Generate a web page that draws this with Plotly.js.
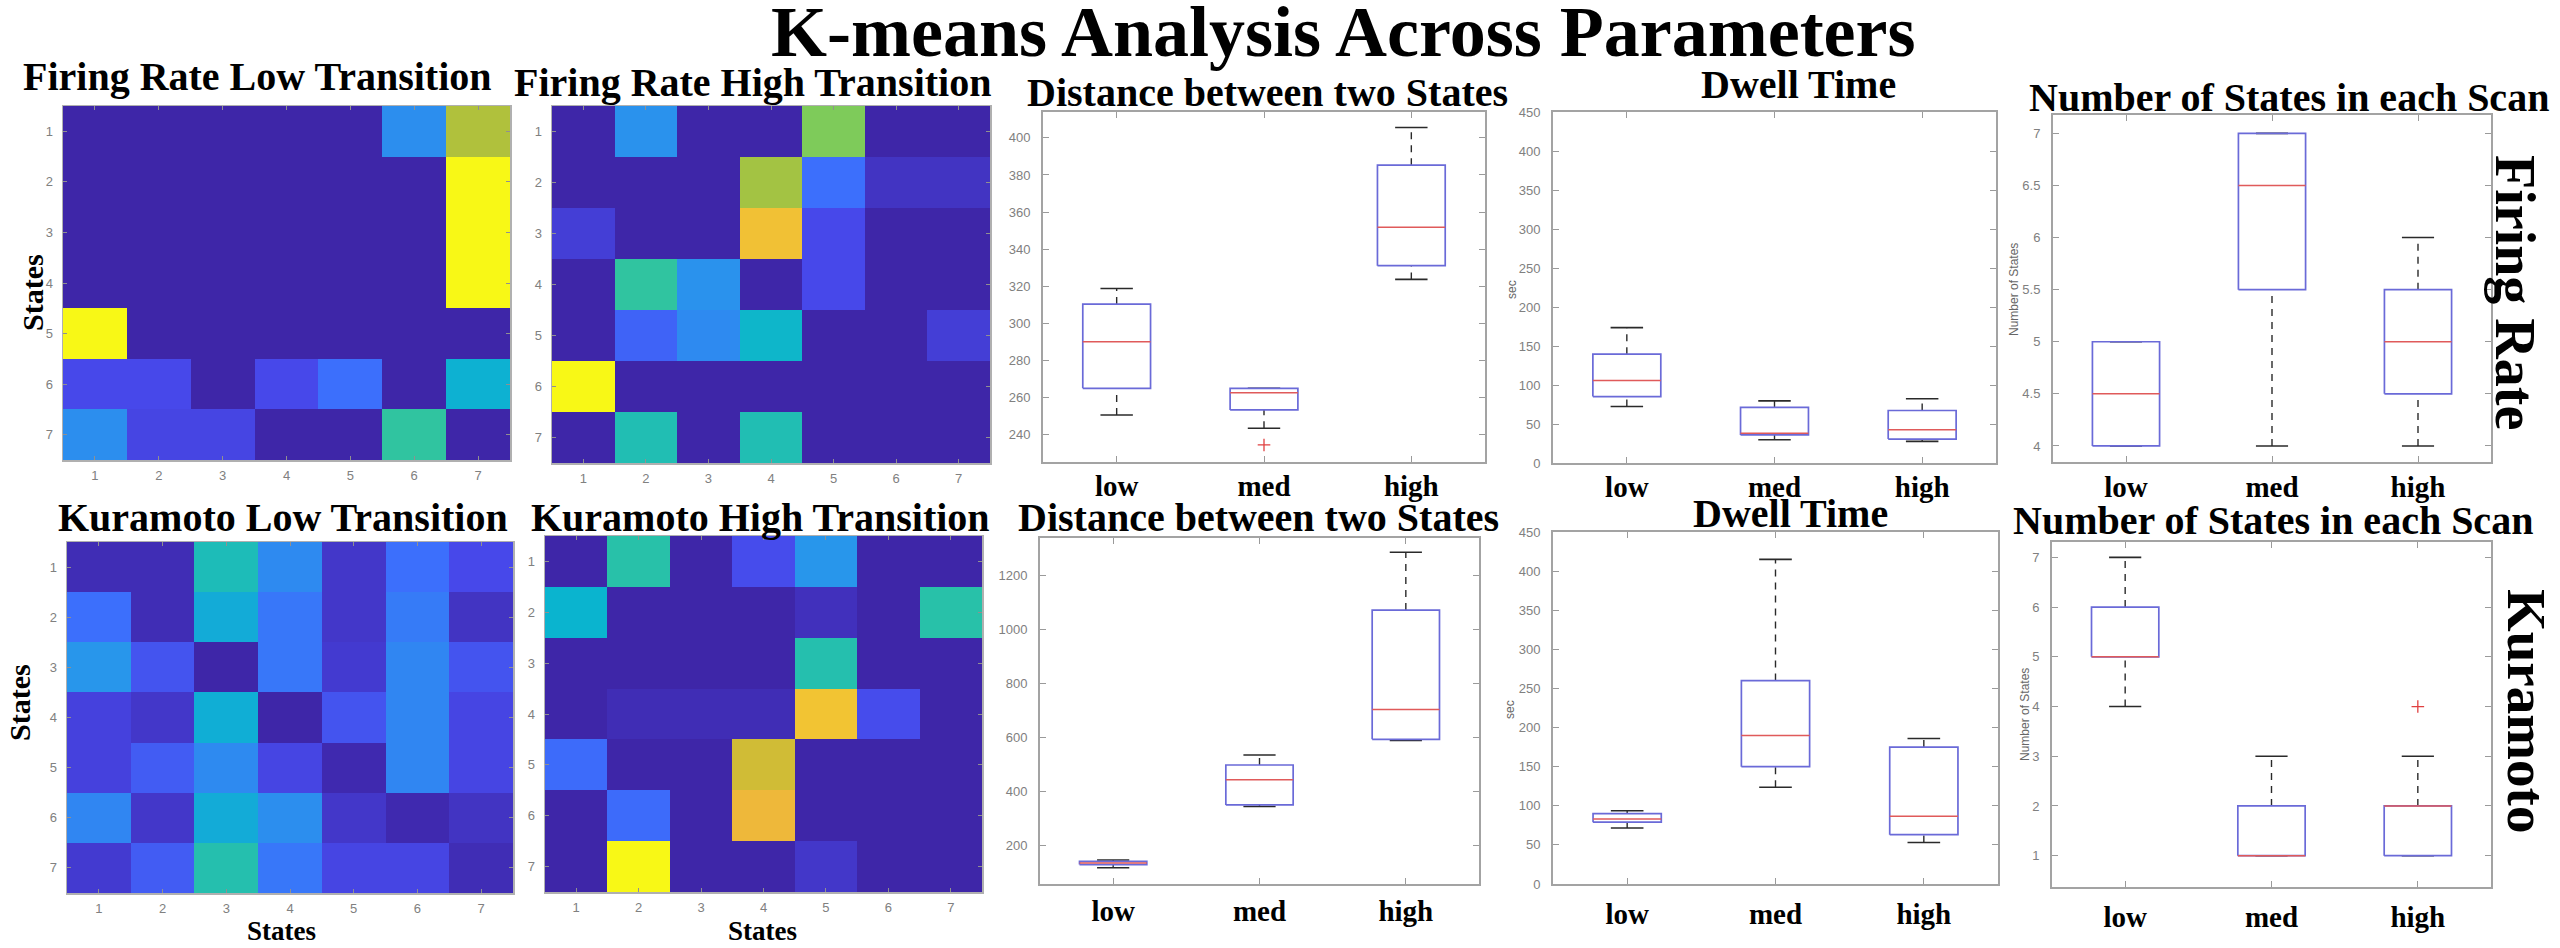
<!DOCTYPE html>
<html><head><meta charset="utf-8">
<script src="https://cdn.plot.ly/plotly-3.0.1.min.js"></script>
<style>html,body{margin:0;padding:0;background:#fff}#chart{width:2560px;height:948px}</style>
</head><body><div id="chart"></div><script>
// ---------- data ----------
const states = [1, 2, 3, 4, 5, 6, 7];
const frLowTransition = [
  [0.00, 0.00, 0.00, 0.00, 0.00, 0.28, 0.68],
  [0.00, 0.00, 0.00, 0.00, 0.00, 0.00, 1.00],
  [0.00, 0.00, 0.00, 0.00, 0.00, 0.00, 1.00],
  [0.00, 0.00, 0.00, 0.00, 0.00, 0.00, 1.00],
  [1.00, 0.00, 0.00, 0.00, 0.00, 0.00, 0.00],
  [0.10, 0.10, 0.00, 0.10, 0.20, 0.00, 0.39],
  [0.28, 0.09, 0.09, 0.00, 0.00, 0.50, 0.00]
];
const frHighTransition = [
  [0.00, 0.29, 0.00, 0.00, 0.60, 0.00, 0.00],
  [0.00, 0.00, 0.00, 0.66, 0.20, 0.04, 0.04],
  [0.07, 0.00, 0.00, 0.83, 0.10, 0.00, 0.00],
  [0.00, 0.50, 0.29, 0.00, 0.10, 0.00, 0.00],
  [0.00, 0.17, 0.27, 0.41, 0.00, 0.00, 0.07],
  [1.00, 0.00, 0.00, 0.00, 0.00, 0.00, 0.00],
  [0.00, 0.46, 0.00, 0.46, 0.00, 0.00, 0.00]
];
const kurLowTransition = [
  [0.02, 0.02, 0.45, 0.27, 0.05, 0.20, 0.10],
  [0.20, 0.02, 0.37, 0.22, 0.05, 0.23, 0.04],
  [0.30, 0.13, 0.00, 0.22, 0.06, 0.26, 0.13],
  [0.08, 0.05, 0.38, 0.00, 0.13, 0.26, 0.09],
  [0.08, 0.15, 0.27, 0.09, 0.01, 0.26, 0.09],
  [0.26, 0.05, 0.37, 0.28, 0.05, 0.01, 0.04],
  [0.06, 0.15, 0.47, 0.22, 0.09, 0.09, 0.02]
];
const kurHighTransition = [
  [0.00, 0.48, 0.00, 0.11, 0.30, 0.00, 0.00],
  [0.40, 0.00, 0.00, 0.00, 0.03, 0.00, 0.48],
  [0.00, 0.00, 0.00, 0.00, 0.47, 0.00, 0.00],
  [0.00, 0.02, 0.02, 0.02, 0.84, 0.11, 0.00],
  [0.19, 0.00, 0.00, 0.74, 0.00, 0.00, 0.00],
  [0.00, 0.19, 0.00, 0.80, 0.00, 0.00, 0.00],
  [0.00, 1.00, 0.00, 0.00, 0.05, 0.00, 0.00]
];

const groups = ['low', 'med', 'high'];

const distFR_lo  = [250.4, 243.2, 323.6];
const distFR_q1  = [264.8, 253.1, 331.0];
const distFR_med = [290.0, 262.4, 351.7];
const distFR_q3  = [310.3, 264.8, 385.3];
const distFR_hi  = [318.7, 264.8, 405.6];
const distFR_outGroup = [2];
const distFR_outVal   = [234.2];

const dwellFR_lo  = [72.4, 29.8, 27.7];
const dwellFR_q1  = [85.2, 36.0, 30.7];
const dwellFR_med = [105.7, 38.0, 42.6];
const dwellFR_q3  = [139.5, 71.2, 67.3];
const dwellFR_hi  = [173.5, 79.7, 82.3];

const numFR_lo  = [4, 4, 4];
const numFR_q1  = [4, 5.5, 4.5];
const numFR_med = [4.5, 6.5, 5];
const numFR_q3  = [5, 7, 5.5];
const numFR_hi  = [5, 7, 6];

const distKur_lo  = [118, 345, 590];
const distKur_q1  = [130, 351, 594];
const distKur_med = [136, 444, 705];
const distKur_q3  = [142, 499, 1073];
const distKur_hi  = [147, 536, 1287];

const dwellKur_lo  = [71.6, 123.6, 53.0];
const dwellKur_q1  = [79.0, 150.0, 63.0];
const dwellKur_med = [83.0, 190.0, 86.5];
const dwellKur_q3  = [90.0, 260.0, 175.0];
const dwellKur_hi  = [93.7, 415.0, 186.0];

const numKur_lo  = [4, 1, 1];
const numKur_q1  = [5, 1, 1];
const numKur_med = [5, 1, 2];
const numKur_q3  = [6, 2, 2];
const numKur_hi  = [7, 3, 3];
const numKur_outGroup = [3];
const numKur_outVal   = [4];

// ---------- styling ----------
const W = 2560, H = 948;
const px = x => x / W;
const py = y => 1 - y / H;
const dx = (a, b) => [a / W, b / W];
const dy = (top, bottom) => [1 - bottom / H, 1 - top / H];

const parula = [
  [0.0, 'rgb(62,38,168)'],
  [0.1, 'rgb(71,72,234)'],
  [0.2, 'rgb(60,111,252)'],
  [0.3, 'rgb(40,150,235)'],
  [0.4, 'rgb(10,180,207)'],
  [0.5, 'rgb(48,196,160)'],
  [0.6, 'rgb(126,203,90)'],
  [0.7, 'rgb(188,190,52)'],
  [0.8, 'rgb(238,184,58)'],
  [0.9, 'rgb(248,214,40)'],
  [1.0, 'rgb(248,248,22)']
];

const SERIF = 'Liberation Serif, Times New Roman, serif';
const SANS = 'Liberation Sans, Arial, sans-serif';
const frameColor = '#a3a3a3';
const tickGray = '#808080';

const traces = [];
function heat(z, xa, ya) {
  traces.push({type: 'heatmap', x: states, y: states, z: z, xaxis: xa, yaxis: ya,
    colorscale: parula, zmin: 0, zmax: 1, showscale: false, hoverinfo: 'z'});
}
heat(frLowTransition, 'x', 'y');
heat(frHighTransition, 'x2', 'y2');
heat(kurLowTransition, 'x3', 'y3');
heat(kurHighTransition, 'x4', 'y4');

const BW = 0.23, CW = 0.11;
function boxes(xa, ya, lo, q1, med, q3, hi, outG, outV) {
  const wx = [], wy = [], cx = [], cy = [], bx = [], by = [], mx = [], my = [];
  for (let i = 0; i < groups.length; i++) {
    const p = i + 1;
    wx.push(p, p, null, p, p, null); wy.push(q3[i], hi[i], null, lo[i], q1[i], null);
    cx.push(p - CW, p + CW, null, p - CW, p + CW, null); cy.push(hi[i], hi[i], null, lo[i], lo[i], null);
    bx.push(p - BW, p + BW, p + BW, p - BW, p - BW, null); by.push(q1[i], q1[i], q3[i], q3[i], q1[i], null);
    mx.push(p - BW, p + BW, null); my.push(med[i], med[i], null);
  }
  const base = {type: 'scatter', mode: 'lines', xaxis: xa, yaxis: ya, showlegend: false, hoverinfo: 'skip'};
  traces.push(Object.assign({}, base, {x: wx, y: wy, line: {color: '#2a2a2a', width: 1.4, dash: '7px,6px'}}));
  traces.push(Object.assign({}, base, {x: cx, y: cy, line: {color: '#2a2a2a', width: 1.6}}));
  traces.push(Object.assign({}, base, {x: bx, y: by, line: {color: '#6a6ad8', width: 1.7}}));
  traces.push(Object.assign({}, base, {x: mx, y: my, line: {color: '#e05a5a', width: 1.5}}));
  if (outG) {
    traces.push({type: 'scatter', mode: 'markers', xaxis: xa, yaxis: ya, showlegend: false,
      x: outG, y: outV, marker: {symbol: 'cross-thin', size: 9, line: {color: '#e04040', width: 1.3}}});
  }
}
boxes('x5', 'y5', distFR_lo, distFR_q1, distFR_med, distFR_q3, distFR_hi, distFR_outGroup, distFR_outVal);
boxes('x6', 'y6', dwellFR_lo, dwellFR_q1, dwellFR_med, dwellFR_q3, dwellFR_hi);
boxes('x7', 'y7', numFR_lo, numFR_q1, numFR_med, numFR_q3, numFR_hi);
boxes('x8', 'y8', distKur_lo, distKur_q1, distKur_med, distKur_q3, distKur_hi);
boxes('x9', 'y9', dwellKur_lo, dwellKur_q1, dwellKur_med, dwellKur_q3, dwellKur_hi);
boxes('x10', 'y10', numKur_lo, numKur_q1, numKur_med, numKur_q3, numKur_hi, numKur_outGroup, numKur_outVal);

// ---------- axes ----------
const layout = {
  width: W, height: H, margin: {l: 0, r: 0, t: 0, b: 0},
  paper_bgcolor: '#fff', plot_bgcolor: '#fff', showlegend: false,
  annotations: []
};
function heatAxes(n, xd, yd) {
  const sx = n === 1 ? '' : n, common = {
    showline: true, linecolor: '#b0b0b0', linewidth: 1.5, mirror: 'allticks',
    ticks: 'inside', ticklen: 4, tickcolor: '#909090', showgrid: false, zeroline: false,
    tickvals: states, ticktext: states.map(String),
    tickfont: {family: SANS, size: 13, color: tickGray}
  };
  layout['xaxis' + sx] = Object.assign({}, common, {domain: xd, anchor: 'y' + sx, range: [0.5, 7.5], ticklabelstandoff: 3});
  layout['yaxis' + sx] = Object.assign({}, common, {domain: yd, anchor: 'x' + sx, range: [7.5, 0.5], ticklabelstandoff: 6});
}
heatAxes(1, dx(63, 510), dy(106, 460));
heatAxes(2, dx(552, 990), dy(106, 463));
heatAxes(3, dx(67, 513), dy(542, 893));
heatAxes(4, dx(545, 982), dy(536, 892));

function boxAxes(n, xd, yd, yr, yt, labelShift) {
  const common = {
    showline: true, linecolor: frameColor, linewidth: 2, mirror: 'allticks',
    ticks: 'inside', ticklen: 6, tickcolor: '#9a9a9a', showgrid: false, zeroline: false
  };
  layout['xaxis' + n] = Object.assign({}, common, {domain: xd, anchor: 'y' + n, range: [0.5, 3.5],
    tickvals: [1, 2, 3], ticktext: groups,
    tickfont: {family: SERIF, size: 29, color: '#000', weight: 'bold'}, ticklabelstandoff: labelShift});
  layout['yaxis' + n] = Object.assign({}, common, {domain: yd, anchor: 'x' + n, range: yr,
    tickvals: yt, ticktext: yt.map(String),
    tickfont: {family: SANS, size: 13, color: tickGray}, ticklabelstandoff: 8});
}
const distFR_ticks = [240, 260, 280, 300, 320, 340, 360, 380, 400];
const dwell_ticks = [0, 50, 100, 150, 200, 250, 300, 350, 400, 450];
const numFR_ticks = [4, 4.5, 5, 5.5, 6, 6.5, 7];
const distKur_ticks = [200, 400, 600, 800, 1000, 1200];
const numKur_ticks = [1, 2, 3, 4, 5, 6, 7];
boxAxes(5, dx(1043, 1485), dy(112, 462), [225, 414], distFR_ticks, -3);
boxAxes(6, dx(1553, 1996), dy(112, 463), [0, 450], dwell_ticks, -3);
boxAxes(7, dx(2053, 2491), dy(115, 462), [3.846, 7.176], numFR_ticks, -2);
boxAxes(8, dx(1040, 1479), dy(538, 884), [58, 1340], distKur_ticks, 0);
boxAxes(9, dx(1553, 1998), dy(532, 884), [0, 450], dwell_ticks, 3);
boxAxes(10, dx(2052, 2491), dy(542, 887), [0.37, 7.31], numKur_ticks, 3);

// ---------- text ----------
function note(text, x, y, size, opts) {
  layout.annotations.push(Object.assign({
    text: text, x: px(x), y: py(y), xref: 'paper', yref: 'paper', showarrow: false,
    xanchor: 'center', yanchor: 'middle',
    font: {family: SERIF, size: size, color: '#000', weight: 'bold'}
  }, opts || {}));
}
note('K-means Analysis Across Parameters', 1343, 32, 72);
note('Firing Rate Low Transition', 257, 77, 40);
note('Firing Rate High Transition', 752, 83, 40);
note('Kuramoto Low Transition', 283, 517, 40);
note('Kuramoto High Transition', 760, 517, 40);
note('Distance between two States', 1267, 92, 40);
note('Dwell Time', 1798, 85, 40);
note('Number of States in each Scan', 2289, 97, 40);
note('Distance between two States', 1258, 517, 40);
note('Dwell Time', 1790, 513, 40);
note('Number of States in each Scan', 2273, 520, 40);
note('Firing Rate', 2515, 292, 56, {textangle: 90});
note('Kuramoto', 2527, 711, 55, {textangle: 90});
note('States', 33, 293, 30, {textangle: -90});
note('States', 19, 703, 30, {textangle: -90});
note('States', 281, 931, 27);
note('States', 762, 931, 27);
const small = {textangle: -90, font: {family: SANS, size: 12, color: '#666'}};
note('sec', 1512, 290, 12, small);
note('sec', 1510, 710, 12, small);
note('Number of States', 2014, 290, 12, small);
note('Number of States', 2025, 715, 12, small);

Plotly.newPlot('chart', traces, layout, {displayModeBar: false, staticPlot: true});
</script></body></html>
